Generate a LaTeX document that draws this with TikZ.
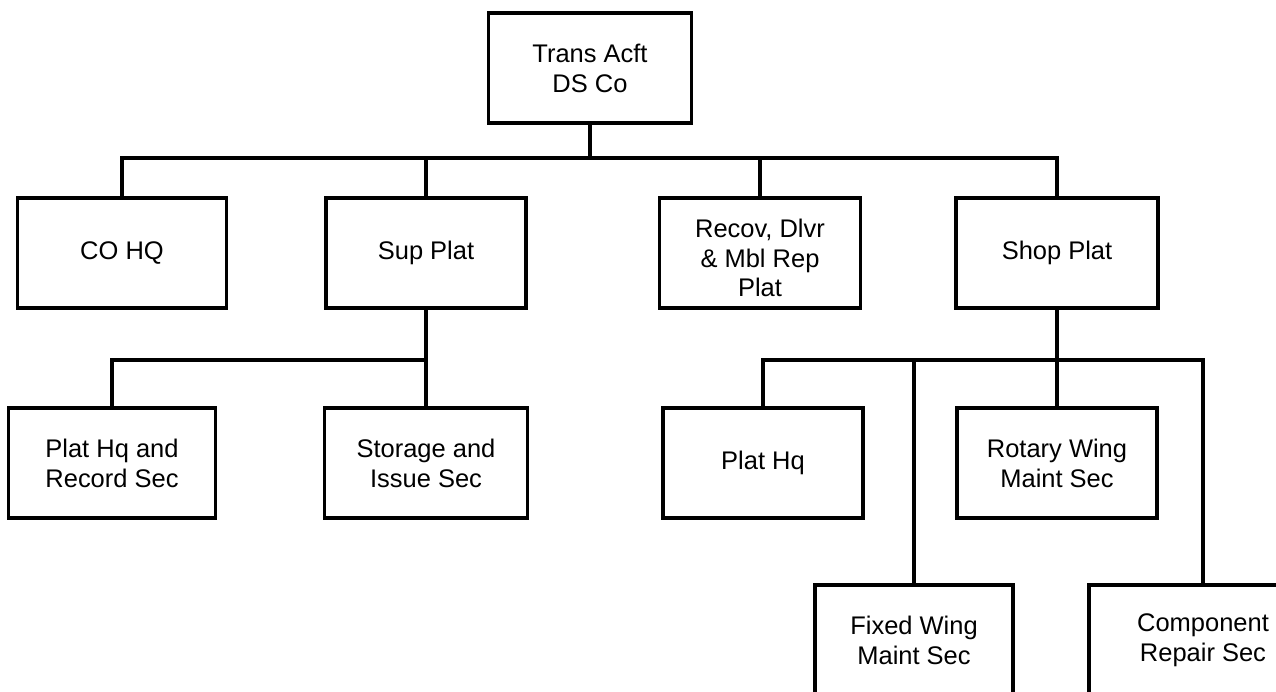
\documentclass[tikz,border=0pt]{standalone}
\usepackage{fontspec}
\setmainfont{Liberation Sans}
\begin{document}
\begin{tikzpicture}[x=0.02cm, y=-0.02cm, line width=1.8pt, line join=miter,
    unit/.style={draw, rectangle, minimum height=2.2cm, inner sep=0pt, align=center,
      font=\fontsize{14.5}{17}\selectfont}]
  \useasboundingbox (0,0) rectangle (1276,691);
  \clip (0,0) rectangle (1276,691);

  % company
  \node[unit, minimum width=4.06cm] (co) at (590,68) {Trans Acft\\DS Co};

  % platoons
  \node[unit, minimum width=4.18cm] (cohq) at (122,253) {CO HQ};
  \node[unit, minimum width=4.00cm] (sup) at (426,253) {Sup Plat};
  \node[unit, minimum width=4.02cm] (recov) at (760,253) {};
  \node[align=center, font=\fontsize{14.5}{17}\selectfont] at (760,258) {Recov, Dlvr\\\& Mbl Rep\\Plat};
  \node[unit, minimum width=4.04cm] (shop) at (1057,253) {Shop Plat};

  % sections
  \node[unit, minimum width=4.14cm] (rec) at (112,463) {Plat Hq and\\Record Sec};
  \node[unit, minimum width=4.06cm] (stor) at (426,463) {Storage and\\Issue Sec};
  \node[unit, minimum width=4.00cm] (plathq) at (763,463) {Plat Hq};
  \node[unit, minimum width=4.00cm] (rotary) at (1057,463) {Rotary Wing\\Maint Sec};
  \node[unit, minimum width=3.96cm] (fixed) at (914,640) {Fixed Wing\\Maint Sec};
  \node[unit, minimum width=4.56cm] (comp) at (1203,640) {Component\\Repair Sec};

  \coordinate (bus1) at (0,158);
  \coordinate (bus2) at (0,360);

  \draw (co.south) -- (co.south |- bus1);
  \draw (cohq.north) -- (cohq.north |- bus1) -- (shop.north |- bus1) -- (shop.north);
  \draw (sup.north) -- (sup.north |- bus1);
  \draw (recov.north) -- (recov.north |- bus1);

  \draw (sup.south) -- (stor.north);
  \draw (rec.north) -- (rec.north |- bus2) -- (sup.south |- bus2);

  \draw (shop.south) -- (rotary.north);
  \draw (plathq.north) -- (plathq.north |- bus2) -- (comp.north |- bus2) -- (comp.north);
  \draw (fixed.north) -- (fixed.north |- bus2);
\end{tikzpicture}
\end{document}
